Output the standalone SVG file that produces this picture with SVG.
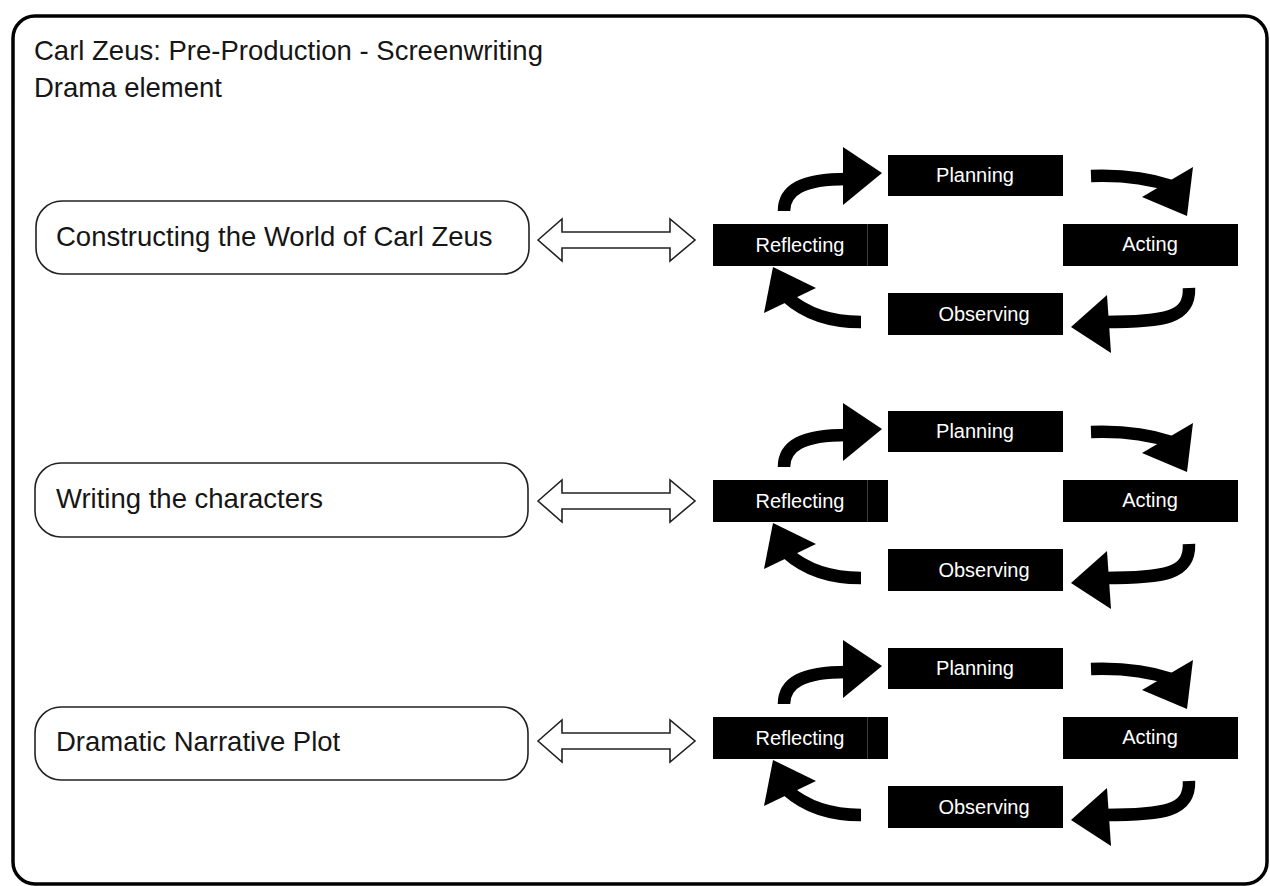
<svg xmlns="http://www.w3.org/2000/svg" width="1270" height="886" viewBox="0 0 1270 886">
<style>
.frame{fill:#fff;stroke:#000;stroke-width:3.5}
.lbox{fill:#fff;stroke:#222;stroke-width:1.6}
.lbl{font-family:"Liberation Sans",Arial,sans-serif;font-size:27.5px;fill:#161616}
.blk{fill:#000}
.seam{stroke:#3a3a3a;stroke-width:1}
.ctx{font-family:"Liberation Sans",Arial,sans-serif;font-size:20px;fill:#fff;text-anchor:middle}
.stem{fill:none;stroke:#000;stroke-width:12.5;stroke-linecap:butt}
.head{fill:#000}
.dbl{fill:#fff;stroke:#222;stroke-width:1.6;stroke-linejoin:miter}
</style>
<rect class="frame" x="13" y="16" width="1254" height="868" rx="22"/>
<g id="title">
<text class="lbl" x="34" y="60">Carl Zeus: Pre-Production - Screenwriting</text>
<text class="lbl" x="34" y="97">Drama element</text>
</g>
<g id="topic1"><rect class="lbox" x="36" y="201" width="493" height="73" rx="26"/><text class="lbl" x="56" y="246">Constructing the World of Carl Zeus</text></g>
<g id="topic2"><rect class="lbox" x="35" y="463" width="493" height="74" rx="26"/><text class="lbl" x="56" y="508">Writing the characters</text></g>
<g id="topic3"><rect class="lbox" x="35" y="707" width="493" height="73" rx="26"/><text class="lbl" x="56" y="751">Dramatic Narrative Plot</text></g>

<g id="cycle1">
<g id="planning1"><rect class="blk" x="888" y="155" width="175" height="41"/><text class="ctx" x="975" y="182">Planning</text></g>
<g id="reflecting1"><rect class="blk" x="713" y="224" width="175" height="42"/><line class="seam" x1="867.5" y1="224" x2="867.5" y2="266"/><text class="ctx" x="800" y="252">Reflecting</text></g>
<g id="acting1"><rect class="blk" x="1063" y="224" width="175" height="42"/><text class="ctx" x="1150" y="251">Acting</text></g>
<g id="observing1"><rect class="blk" x="888" y="293" width="175" height="42"/><text class="ctx" x="984" y="321">Observing</text></g>
</g>
<g id="cycle2" transform="translate(0,256)">
<g id="planning2"><rect class="blk" x="888" y="155" width="175" height="41"/><text class="ctx" x="975" y="182">Planning</text></g>
<g id="reflecting2"><rect class="blk" x="713" y="224" width="175" height="42"/><line class="seam" x1="867.5" y1="224" x2="867.5" y2="266"/><text class="ctx" x="800" y="252">Reflecting</text></g>
<g id="acting2"><rect class="blk" x="1063" y="224" width="175" height="42"/><text class="ctx" x="1150" y="251">Acting</text></g>
<g id="observing2"><rect class="blk" x="888" y="293" width="175" height="42"/><text class="ctx" x="984" y="321">Observing</text></g>
</g>
<g id="cycle3" transform="translate(0,493)">
<g id="planning3"><rect class="blk" x="888" y="155" width="175" height="41"/><text class="ctx" x="975" y="182">Planning</text></g>
<g id="reflecting3"><rect class="blk" x="713" y="224" width="175" height="42"/><line class="seam" x1="867.5" y1="224" x2="867.5" y2="266"/><text class="ctx" x="800" y="252">Reflecting</text></g>
<g id="acting3"><rect class="blk" x="1063" y="224" width="175" height="42"/><text class="ctx" x="1150" y="251">Acting</text></g>
<g id="observing3"><rect class="blk" x="888" y="293" width="175" height="42"/><text class="ctx" x="984" y="321">Observing</text></g>
</g>

<g id="connectors">
<polygon class="dbl" points="538,240 562,219 562,232 670,232 670,219 695,240 670,261 670,248 562,248 562,261"/>
<polygon class="dbl" points="538,501 562,480 562,493 670,493 670,480 695,501 670,522 670,509 562,509 562,522"/>
<polygon class="dbl" points="538,741 562,720 562,733 670,733 670,720 695,741 670,762 670,749 562,749 562,762"/>
<g id="loop1">
<path class="stem" d="M784 211 C784 190 802 179 847 179"/><polygon class="head" points="843,147 882,173 843,205"/>
<path class="stem" d="M1091 176 C1120 175 1148 178 1171 186"/><polygon class="head" points="1193,167 1187,216 1142,197"/>
<path class="stem" d="M1189 288 C1190 318 1165 322 1104 322"/><polygon class="head" points="1107,295 1071,327 1111,353"/>
<path class="stem" d="M861 322 C830 322 806 314 787 297"/><polygon class="head" points="773,267 816,288 764,313"/>
</g>
<g id="loop2" transform="translate(0,256)">
<path class="stem" d="M784 211 C784 190 802 179 847 179"/><polygon class="head" points="843,147 882,173 843,205"/>
<path class="stem" d="M1091 176 C1120 175 1148 178 1171 186"/><polygon class="head" points="1193,167 1187,216 1142,197"/>
<path class="stem" d="M1189 288 C1190 318 1165 322 1104 322"/><polygon class="head" points="1107,295 1071,327 1111,353"/>
<path class="stem" d="M861 322 C830 322 806 314 787 297"/><polygon class="head" points="773,267 816,288 764,313"/>
</g>
<g id="loop3" transform="translate(0,493)">
<path class="stem" d="M784 211 C784 190 802 179 847 179"/><polygon class="head" points="843,147 882,173 843,205"/>
<path class="stem" d="M1091 176 C1120 175 1148 178 1171 186"/><polygon class="head" points="1193,167 1187,216 1142,197"/>
<path class="stem" d="M1189 288 C1190 318 1165 322 1104 322"/><polygon class="head" points="1107,295 1071,327 1111,353"/>
<path class="stem" d="M861 322 C830 322 806 314 787 297"/><polygon class="head" points="773,267 816,288 764,313"/>
</g>
</g>
</svg>
